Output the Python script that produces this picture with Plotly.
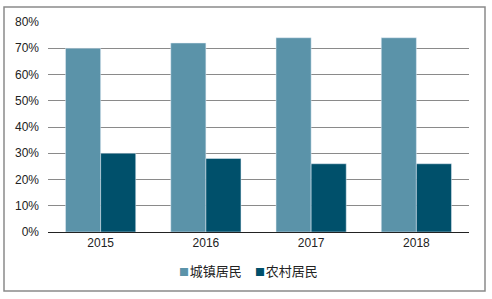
import plotly.graph_objects as go

years = ["2015", "2016", "2017", "2018"]
urban = [70, 72, 74, 74]
rural = [30, 28, 26, 26]
series_names = ["城镇居民", "农村居民"]
colors = ["#5B93A9", "#00506B"]
y_ticks = [0, 10, 20, 30, 40, 50, 60, 70, 80]
y_tick_labels = [f"{v}%" for v in y_ticks]

L, R, T, B = 48, 23, 22, 67
W, H = 492, 299
pw, ph = W - L - R, H - T - B

fig = go.Figure()
fig.add_trace(go.Bar(x=years, y=urban, name=series_names[0], marker_color=colors[0]))
fig.add_trace(go.Bar(x=years, y=rural, name=series_names[1], marker_color=colors[1]))

font = "Liberation Sans, Arial, sans-serif"
fig.update_layout(
    width=W, height=H,
    margin=dict(l=L, r=R, t=T, b=B),
    paper_bgcolor="white", plot_bgcolor="white",
    barmode="group", bargap=0.333, bargroupgap=0,
    font=dict(family=font, size=12, color="#222"),
    showlegend=False,
    xaxis=dict(showgrid=False, showline=True, linecolor="#222", linewidth=1,
               ticks="", tickfont=dict(size=12)),
    yaxis=dict(range=[0, 80], tickvals=y_ticks, ticktext=y_tick_labels,
               showgrid=True, gridcolor="#8a8a8a", gridwidth=1,
               zeroline=False, showline=False, ticks="", ticklabelstandoff=8,
               tickfont=dict(size=12)),
)
# legend drawn as annotations
legend_y = -(270 - (H - B)) / ph
legend_x_px = [177, 253]
for name, c, xp in zip(series_names, colors, legend_x_px):
    fig.add_annotation(
        xref="paper", yref="paper", x=(xp - L) / pw, y=legend_y,
        xanchor="left", yanchor="middle", showarrow=False,
        text=f"<span style='color:{c};font-size:10px'>■</span><span style='font-size:3px'> </span>{name}",
        font=dict(family="Noto Sans CJK SC, sans-serif", size=13, color="#222"),
    )
fig.add_shape(type="rect", xref="paper", yref="paper",
              x0=(4 - L) / pw, x1=(485 - L) / pw,
              y0=-(291 - (H - B)) / ph, y1=1 + (T - 7) / ph,
              line=dict(color="#8a8a8a", width=1.5), fillcolor="rgba(0,0,0,0)", layer="below")
fig.write_html("out.html")
